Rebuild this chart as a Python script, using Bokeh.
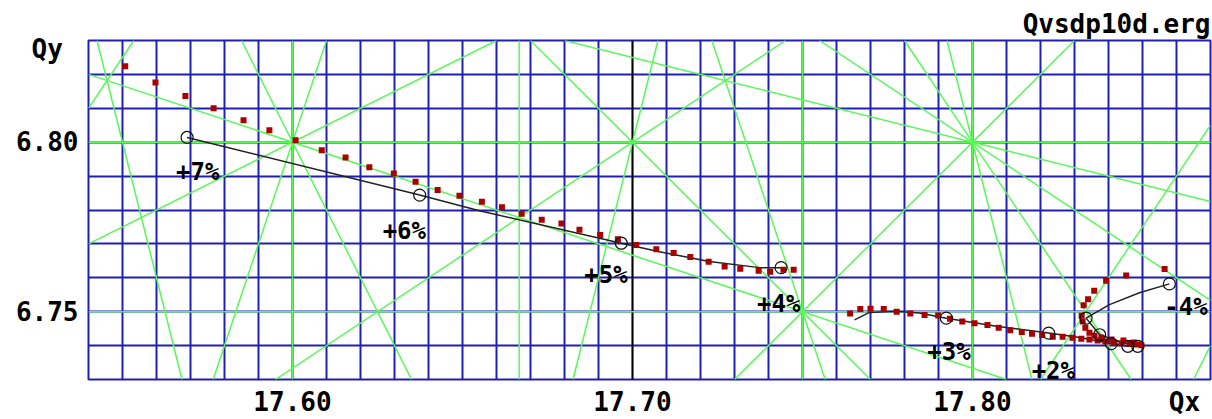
import math
from bokeh.plotting import figure
from bokeh.models import Label, Title, FixedTicker, SingleIntervalTicker, PrintfTickFormatter
from bokeh.embed import file_html
from bokeh.resources import INLINE

# ---------------- data ----------------
QX_RANGE = (17.54, 17.87)
QY_RANGE = (6.73, 6.83)
QX_TICKS = [17.60, 17.70, 17.80]
QY_TICKS = [6.75, 6.80]
GRID_STEP = 0.01
REF_QX = 17.70
MAX_ORDER = 5
FILE_NAME = "Qvsdp10d.erg"
QX_TITLE, QY_TITLE = "Qx", "Qy\u00a0"

# black tune curve (two branches)
curve_a_qx = [17.5690, 17.6374, 17.6550, 17.6967, 17.7079, 17.7226, 17.7374, 17.7437]
curve_a_qy = [6.8014, 6.7844, 6.7798, 6.7702, 6.7677, 6.7648, 6.7630, 6.7630]
curve_b_qx = [17.7653, 17.7697, 17.7776, 17.7844, 17.7923, 17.8070, 17.8224, 17.8315,
              17.8408, 17.8457, 17.8486, 17.8432, 17.8374, 17.8334, 17.8403, 17.8491, 17.8579]
curve_b_qy = [6.7476, 6.7498, 6.7501, 6.7496, 6.7481, 6.7457, 6.7437, 6.7424,
              6.7406, 6.7398, 6.7398, 6.7412, 6.7432, 6.7481, 6.7521, 6.7556, 6.7582]

# circles at integer momentum deviations
dp_labels = ["+7%", "+6%", "+5%", "+4%", "+3%", "+2%", "+1%", "0%", "-1%", "-2%", "-3%", "-4%"]
dp_shown = [True, True, True, True, True, True, False, False, False, False, False, True]
circle_qx = [17.5690, 17.6374, 17.6967, 17.7437, 17.7923, 17.8224, 17.8408, 17.8457, 17.8486, 17.8374, 17.8334, 17.8579]
circle_qy = [6.8014, 6.7844, 6.7702, 6.7630, 6.7481, 6.7437, 6.7406, 6.7398, 6.7398, 6.7432, 6.7481, 6.7582]

# red squares (tracking results)
red_qx = [17.5508, 17.5597, 17.5685, 17.5768, 17.5856, 17.5932, 17.6009, 17.6086, 17.6156, 17.6226,
          17.6298, 17.6362, 17.6427, 17.6491, 17.6557, 17.6616, 17.6674, 17.6733, 17.6791, 17.6844,
          17.6905, 17.6957, 17.7011, 17.7070, 17.7121, 17.7170, 17.7224, 17.7271, 17.7317, 17.7371,
          17.7405, 17.7444, 17.7474,
          17.7640, 17.7670, 17.7700, 17.7739, 17.7777, 17.7817, 17.7859, 17.7899, 17.7934, 17.7970,
          17.8006, 17.8044, 17.8077, 17.8111, 17.8145, 17.8175, 17.8205, 17.8236, 17.8265, 17.8294,
          17.8320, 17.8344, 17.8368, 17.8391, 17.8415, 17.8438, 17.8462, 17.8485, 17.8497, 17.8474,
          17.8444, 17.8409, 17.8379, 17.8359, 17.8344, 17.8332, 17.8324, 17.8321, 17.8327, 17.8340,
          17.8358, 17.8393, 17.8452, 17.8565]
red_qy = [6.8224, 6.8176, 6.8136, 6.8100, 6.8065, 6.8035, 6.8006, 6.7976, 6.7955, 6.7926,
          6.7908, 6.7883, 6.7859, 6.7842, 6.7824, 6.7808, 6.7789, 6.7771, 6.7760, 6.7742,
          6.7726, 6.7714, 6.7697, 6.7684, 6.7673, 6.7661, 6.7647, 6.7633, 6.7627, 6.7621,
          6.7618, 6.7624, 6.7624,
          6.7495, 6.7508, 6.7509, 6.7508, 6.7500, 6.7495, 6.7490, 6.7489, 6.7479, 6.7471,
          6.7466, 6.7461, 6.7453, 6.7445, 6.7440, 6.7435, 6.7431, 6.7426, 6.7426, 6.7423,
          6.7420, 6.7418, 6.7415, 6.7412, 6.7409, 6.7407, 6.7406, 6.7403, 6.7401, 6.7409,
          6.7415, 6.7418, 6.7424, 6.7429, 6.7438, 6.7453, 6.7471, 6.7488, 6.7519, 6.7537,
          6.7562, 6.7591, 6.7607, 6.7626]

# ---------------- styles / layout ----------------
BLUE = "#1f1fb4"
GREEN = "#58f858"
RED = "#aa0000"
FONT = "DejaVu Sans Mono"

FIG_W, FIG_H = 1212, 419
B_LEFT, B_RIGHT, B_TOP, B_BOTTOM = 88, 2, 40, 39
FRAME_W = FIG_W - B_LEFT - B_RIGHT
PPU = FRAME_W / (QX_RANGE[1] - QX_RANGE[0])   # pixels per tune unit

# where the axis names sit (as extra tick positions near the frame corners)
QX_TITLE_POS = QX_RANGE[1] - 26 / PPU
QY_TITLE_POS = QY_RANGE[1] - 9 / PPU

p = figure(width=FIG_W, height=FIG_H, x_range=QX_RANGE, y_range=QY_RANGE,
           output_backend="svg", toolbar_location=None, title=None,
           min_border_left=B_LEFT, min_border_right=B_RIGHT,
           min_border_top=B_TOP, min_border_bottom=B_BOTTOM)
p.background_fill_color = "white"
p.border_fill_color = "white"
p.outline_line_color = BLUE
p.outline_line_width = 2

for ax, ticks, name, pos in ((p.xaxis[0], QX_TICKS, QX_TITLE, QX_TITLE_POS),
                             (p.yaxis[0], QY_TICKS, QY_TITLE, QY_TITLE_POS)):
    ax.ticker = FixedTicker(ticks=ticks + [pos])
    ax.formatter = PrintfTickFormatter(format="%.2f")
    ax.major_label_overrides = {pos: name}
    ax.axis_line_color = None
    ax.major_tick_line_color = None
    ax.minor_tick_line_color = None
    ax.major_tick_out = 0
    ax.major_tick_in = 0
    ax.major_label_text_font = FONT
    ax.major_label_text_font_style = "bold"
    ax.major_label_text_font_size = "26px"
    ax.major_label_text_color = "black"
p.xaxis[0].major_label_standoff = 7
p.yaxis[0].major_label_standoff = 10

for g in (p.xgrid[0], p.ygrid[0]):
    g.ticker = SingleIntervalTicker(interval=GRID_STEP, num_minor_ticks=0)
    g.grid_line_color = BLUE
    g.grid_line_width = 2
    g.grid_line_alpha = 1.0

p.add_layout(Title(text=FILE_NAME, align="right", text_font=FONT, text_font_style="bold",
                   text_font_size="26px", text_color="black", standoff=4), "above")

# reference vertical line
p.line(x=[REF_QX, REF_QX], y=list(QY_RANGE), line_color="black", line_width=1.5)

# resonance lines m*Qx + n*Qy = k, |m|+|n| <= MAX_ORDER
x0, x1 = QX_RANGE
y0, y1 = QY_RANGE
res_xs, res_ys = [], []
for m in range(0, MAX_ORDER + 1):
    for n in range(-MAX_ORDER, MAX_ORDER + 1):
        if abs(m) + abs(n) == 0 or abs(m) + abs(n) > MAX_ORDER:
            continue
        if m == 0 and n < 0:
            continue
        vals = [m * a + n * b for a in (x0, x1) for b in (y0, y1)]
        for k in range(math.ceil(min(vals)), math.floor(max(vals)) + 1):
            if math.gcd(math.gcd(m, abs(n)), abs(k)) > 1:
                continue
            if n == 0:
                res_xs.append([k / m, k / m]); res_ys.append([y0, y1]); continue
            if m == 0:
                res_xs.append([x0, x1]); res_ys.append([k / n, k / n]); continue
            pts = []
            for xe in (x0, x1):
                ye = (k - m * xe) / n
                if y0 - 1e-9 <= ye <= y1 + 1e-9:
                    pts.append((xe, ye))
            for ye in (y0, y1):
                xe = (k - n * ye) / m
                if x0 - 1e-9 <= xe <= x1 + 1e-9:
                    pts.append((xe, ye))
            if len(pts) >= 2:
                pts.sort()
                res_xs.append([pts[0][0], pts[-1][0]])
                res_ys.append([pts[0][1], pts[-1][1]])

p.multi_line(xs=res_xs, ys=res_ys, line_color=GREEN, line_width=1.5)

# tune curve
p.line(x=curve_a_qx, y=curve_a_qy, line_color="#222222", line_width=1.5)
p.line(x=curve_b_qx, y=curve_b_qy, line_color="#222222", line_width=1.5)
p.scatter(x=red_qx, y=red_qy, marker="square", size=6, fill_color=RED, line_color=None)
p.scatter(x=circle_qx, y=circle_qy, marker="circle", size=12, fill_color=None,
          line_color="#111111", line_width=1.2)

# dp labels: offset (pixels right, pixels down) from circle
label_offsets = {"+7%": (-11, 35), "+6%": (-37, 36), "+5%": (-37, 32), "+4%": (-24, 36),
                 "+3%": (-19, 34), "+2%": (-17, 38), "-4%": (-5, 23)}
for txt, show, cx, cy in zip(dp_labels, dp_shown, circle_qx, circle_qy):
    if not show:
        continue
    dx, dy = label_offsets[txt]
    p.add_layout(Label(x=cx + dx / PPU, y=cy - dy / PPU, text=txt, text_font=FONT,
                       text_font_style="bold", text_font_size="24px", text_color="black",
                       text_align="left", text_baseline="alphabetic"))

open("out.html", "w").write(file_html(p, INLINE))
